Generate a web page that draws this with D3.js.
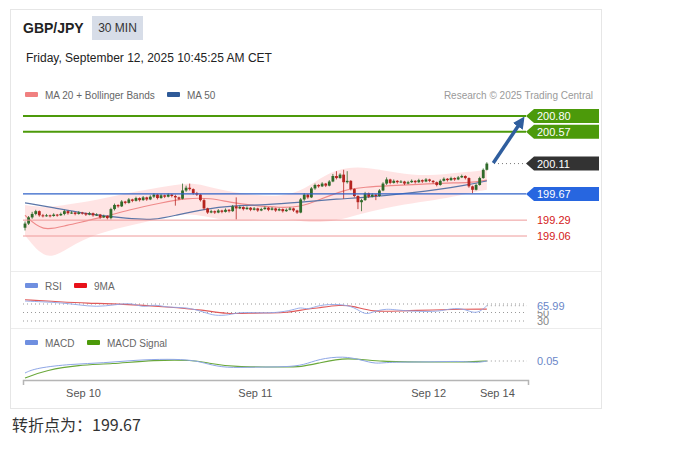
<!DOCTYPE html>
<html>
<head>
<meta charset="utf-8">
<script src="https://cdn.jsdelivr.net/npm/d3@7"></script>
<style>
  body { margin: 0; background: #fff; }
  text { font-family: "Liberation Sans", Arial, sans-serif; }
</style>
</head>
<body>
<svg id="chart" width="673" height="453"></svg>
<script>
// candles, 30 min, index 0 .. 129
const opens = [199.18, 199.24, 199.33, 199.38, 199.42, 199.36, 199.35, 199.36, 199.35, 199.37, 199.36, 199.38, 199.42, 199.39, 199.40, 199.38, 199.40, 199.39, 199.37, 199.39, 199.36, 199.37, 199.33, 199.35, 199.32, 199.45, 199.51, 199.49, 199.56, 199.54, 199.59, 199.57, 199.61, 199.58, 199.62, 199.59, 199.63, 199.66, 199.61, 199.65, 199.63, 199.66, 199.64, 199.62, 199.60, 199.72, 199.76, 199.74, 199.68, 199.66, 199.58, 199.46, 199.40, 199.42, 199.40, 199.43, 199.41, 199.44, 199.42, 199.49, 199.46, 199.48, 199.45, 199.47, 199.44, 199.46, 199.43, 199.45, 199.47, 199.44, 199.46, 199.43, 199.45, 199.42, 199.44, 199.46, 199.43, 199.40, 199.59, 199.66, 199.62, 199.75, 199.80, 199.78, 199.82, 199.79, 199.85, 199.93, 199.90, 199.95, 199.84, 199.86, 199.74, 199.64, 199.55, 199.58, 199.68, 199.63, 199.66, 199.64, 199.72, 199.82, 199.88, 199.83, 199.86, 199.84, 199.85, 199.82, 199.84, 199.86, 199.84, 199.87, 199.85, 199.88, 199.86, 199.84, 199.80, 199.86, 199.89, 199.87, 199.90, 199.88, 199.91, 199.93, 199.90, 199.78, 199.73, 199.80, 199.90, 200.02]
const closes = [199.24, 199.33, 199.38, 199.42, 199.36, 199.35, 199.36, 199.35, 199.37, 199.36, 199.38, 199.42, 199.39, 199.40, 199.38, 199.40, 199.39, 199.37, 199.39, 199.36, 199.37, 199.33, 199.35, 199.32, 199.45, 199.51, 199.49, 199.56, 199.54, 199.59, 199.57, 199.61, 199.58, 199.62, 199.59, 199.63, 199.66, 199.61, 199.65, 199.63, 199.66, 199.64, 199.62, 199.60, 199.72, 199.76, 199.74, 199.68, 199.66, 199.58, 199.46, 199.40, 199.42, 199.40, 199.43, 199.41, 199.44, 199.42, 199.49, 199.46, 199.48, 199.45, 199.47, 199.44, 199.46, 199.43, 199.45, 199.47, 199.44, 199.46, 199.43, 199.45, 199.42, 199.44, 199.46, 199.43, 199.40, 199.59, 199.66, 199.62, 199.75, 199.80, 199.78, 199.82, 199.79, 199.85, 199.93, 199.90, 199.95, 199.84, 199.86, 199.74, 199.64, 199.55, 199.58, 199.68, 199.63, 199.66, 199.64, 199.72, 199.82, 199.88, 199.83, 199.86, 199.84, 199.85, 199.82, 199.84, 199.86, 199.84, 199.87, 199.85, 199.88, 199.86, 199.84, 199.80, 199.86, 199.89, 199.87, 199.90, 199.88, 199.91, 199.93, 199.90, 199.78, 199.73, 199.80, 199.90, 200.02, 200.11]
const highs = [199.27, 199.35, 199.41, 199.44, 199.43, 199.38, 199.38, 199.37, 199.39, 199.38, 199.40, 199.44, 199.43, 199.42, 199.41, 199.42, 199.41, 199.40, 199.41, 199.40, 199.39, 199.38, 199.37, 199.36, 199.47, 199.53, 199.52, 199.58, 199.57, 199.61, 199.60, 199.63, 199.62, 199.64, 199.63, 199.65, 199.68, 199.67, 199.67, 199.66, 199.68, 199.67, 199.66, 199.63, 199.82, 199.79, 199.82, 199.75, 199.70, 199.67, 199.60, 199.47, 199.44, 199.43, 199.45, 199.44, 199.46, 199.45, 199.51, 199.62, 199.50, 199.49, 199.49, 199.48, 199.48, 199.47, 199.47, 199.49, 199.48, 199.48, 199.47, 199.47, 199.46, 199.46, 199.48, 199.47, 199.44, 199.61, 199.68, 199.67, 199.77, 199.82, 199.81, 199.84, 199.83, 199.87, 199.96, 200.00, 199.97, 200.02, 200.00, 199.87, 199.75, 199.65, 199.60, 199.70, 199.69, 199.68, 199.67, 199.74, 199.84, 199.91, 199.89, 199.88, 199.87, 199.87, 199.86, 199.86, 199.88, 199.87, 199.89, 199.88, 199.90, 199.89, 199.87, 199.85, 199.88, 199.91, 199.90, 199.92, 199.91, 199.93, 199.95, 199.94, 199.91, 199.79, 199.82, 199.92, 200.04, 200.13]
const lows = [199.14, 199.22, 199.31, 199.36, 199.34, 199.33, 199.34, 199.33, 199.34, 199.34, 199.35, 199.36, 199.37, 199.38, 199.36, 199.37, 199.37, 199.35, 199.36, 199.34, 199.35, 199.31, 199.32, 199.30, 199.30, 199.43, 199.47, 199.48, 199.52, 199.53, 199.55, 199.56, 199.56, 199.57, 199.57, 199.58, 199.61, 199.59, 199.60, 199.61, 199.62, 199.62, 199.50, 199.58, 199.59, 199.70, 199.72, 199.66, 199.64, 199.56, 199.44, 199.38, 199.39, 199.38, 199.39, 199.39, 199.40, 199.40, 199.41, 199.30, 199.45, 199.43, 199.44, 199.42, 199.43, 199.41, 199.42, 199.44, 199.42, 199.43, 199.41, 199.42, 199.40, 199.41, 199.43, 199.41, 199.38, 199.39, 199.57, 199.60, 199.61, 199.73, 199.76, 199.77, 199.77, 199.78, 199.84, 199.88, 199.89, 199.60, 199.82, 199.72, 199.62, 199.45, 199.42, 199.57, 199.61, 199.62, 199.58, 199.63, 199.71, 199.80, 199.81, 199.82, 199.82, 199.83, 199.80, 199.81, 199.83, 199.82, 199.83, 199.83, 199.84, 199.84, 199.82, 199.78, 199.79, 199.85, 199.85, 199.86, 199.86, 199.87, 199.90, 199.88, 199.76, 199.68, 199.72, 199.79, 199.89, 200.01]

// MA 20 + Bollinger bands, MA 50 (read at sparse candle indices)
const bandIdx = [0, 6, 12, 20, 30, 38, 45, 50, 56, 64, 72, 78, 84, 90, 96, 102, 110, 118, 124, 129]
const bandUpper = [199.51, 199.47, 199.52, 199.58, 199.70, 199.77, 199.83, 199.80, 199.71, 199.65, 199.63, 199.73, 199.96, 200.06, 200.05, 199.99, 199.93, 199.96, 199.99, 200.02]
const bandLower = [199.07, 198.68, 198.89, 199.10, 199.22, 199.32, 199.39, 199.35, 199.28, 199.29, 199.32, 199.26, 199.26, 199.32, 199.41, 199.48, 199.55, 199.61, 199.68, 199.73]
const ma20Idx = [0, 5, 11, 21, 29, 38, 45, 52, 57, 64, 71, 77, 82, 89, 95, 102, 110, 118, 124, 129]
const ma20 = [199.36, 199.12, 199.21, 199.32, 199.44, 199.54, 199.61, 199.61, 199.55, 199.50, 199.47, 199.48, 199.58, 199.73, 199.77, 199.79, 199.81, 199.83, 199.83, 199.87]
const ma50Idx = [0, 8, 17, 29, 36, 42, 50, 58, 67, 77, 88, 93, 108, 124, 129]
const ma50 = [199.54, 199.47, 199.38, 199.31, 199.29, 199.36, 199.45, 199.50, 199.51, 199.55, 199.60, 199.61, 199.68, 199.80, 199.86]

// levels
const resistances = [200.80, 200.57]
const lastPrice = 200.11
const pivot = 199.67
const supports = [199.29, 199.06]

// RSI
const rsiIdx = [0, 5, 10, 15, 20, 25, 30, 33, 36, 40, 45, 50, 53, 57, 60, 65, 70, 75, 77, 79, 82, 88, 92, 95, 97, 101, 105, 115, 118, 122, 125, 127, 129]
const rsi = [77, 75, 73, 68, 63, 68, 73, 61, 70, 61, 63, 51, 42, 44, 51, 49, 49, 56, 63, 56, 68, 70, 63, 44, 51, 60, 54, 51, 58, 61, 49, 51, 65.99]
const rsiMaIdx = [0, 10, 17, 27, 40, 50, 56, 64, 73, 77, 82, 88, 92, 97, 105, 114, 122, 129]
const rsiMa = [80, 75, 72, 70, 63, 56, 46, 49, 49, 56, 61, 68, 65, 51, 54, 56, 58, 58]

// MACD
const macdIdx = [0, 3, 13, 22, 31, 40, 47, 51, 56, 64, 73, 78, 82, 89, 94, 98, 101, 114, 122, 126, 129]
const macd = [-0.07, -0.02, 0.02, 0.03, 0.06, 0.07, 0.06, 0.02, -0.02, -0.01, -0.01, 0.01, 0.07, 0.10, 0.06, 0.02, 0.04, 0.04, 0.05, 0.03, 0.05]
const signalIdx = [0, 6, 15, 24, 36, 47, 51, 58, 73, 77, 82, 90, 99, 114, 123, 129]
const signal = [-0.12, -0.04, 0.01, 0.02, 0.06, 0.06, 0.03, -0.01, -0.01, -0.01, 0.03, 0.09, 0.04, 0.04, 0.04, 0.05]

const tickIdx = [16.2, 64.2, 112.6, 131.8]
const tickLabels = ['Sep 10', 'Sep 11', 'Sep 12', 'Sep 14']

const svg = d3.select('#chart')
const x = d3.scaleLinear().domain([-0.56, 140.5]).range([23, 528])
const y = d3.scaleLinear().domain([200.80, 199.06]).range([116, 236])
const yr = d3.scaleLinear().domain([30, 70]).range([321, 304])
const ym = d3.scaleLinear().domain([0, 0.05]).range([366, 361])

const green = '#4c9a0a'
const upCol = '#2f6a2a'
const downCol = '#b5231f'

// card
svg.append('rect').attr('x', 10.5).attr('y', 9.5).attr('width', 591).attr('height', 399)
  .attr('fill', '#fff').attr('stroke', '#e6e6e6')
svg.append('text').attr('x', 23).attr('y', 33).attr('font-size', 14).attr('font-weight', 'bold')
  .attr('fill', '#222').text('GBP/JPY')
svg.append('rect').attr('x', 92).attr('y', 16).attr('width', 51).attr('height', 24)
  .attr('fill', '#d7dde8')
svg.append('text').attr('x', 117.5).attr('y', 32).attr('text-anchor', 'middle')
  .attr('font-size', 12).attr('fill', '#333').text('30 MIN')
svg.append('text').attr('x', 26).attr('y', 62).attr('font-size', 12).attr('fill', '#222')
  .text('Friday, September 12, 2025 10:45:25 AM CET')

// panel separators
;[271.5, 328.5].forEach(v => {
  svg.append('line').attr('x1', 11).attr('x2', 601).attr('y1', v).attr('y2', v)
    .attr('stroke', '#ececec')
})

function legend(items, yy) {
  items.forEach(d => {
    svg.append('rect').attr('x', d.x).attr('y', yy - 3).attr('width', 13).attr('height', 5)
      .attr('rx', 1).attr('fill', d.c)
    svg.append('text').attr('x', d.x + 20).attr('y', yy + 3.5).attr('font-size', 10)
      .attr('fill', '#666').text(d.t)
  })
}
legend([{ x: 25, c: '#f08080', t: 'MA 20 + Bollinger Bands' }, { x: 167, c: '#2e5a98', t: 'MA 50' }], 95)
legend([{ x: 25, c: '#6f8fe0', t: 'RSI' }, { x: 74, c: '#e8121a', t: '9MA' }], 286)
legend([{ x: 25, c: '#6f8fe0', t: 'MACD' }, { x: 87, c: '#4c9a0a', t: 'MACD Signal' }], 343)
svg.append('text').attr('x', 593).attr('y', 98.5).attr('text-anchor', 'end')
  .attr('font-size', 10).attr('fill', '#9a9a9a').text('Research © 2025 Trading Central')

// main plot
svg.append('clipPath').attr('id', 'clip-main').append('rect')
  .attr('x', 23).attr('y', 104).attr('width', 505).attr('height', 166)
const main = svg.append('g').attr('clip-path', 'url(#clip-main)')

const band = bandIdx.map((d, i) => ({ i: d, hi: bandUpper[i], lo: bandLower[i] }))
main.append('path').datum(band)
  .attr('d', d3.area().curve(d3.curveBasis).x(d => x(d.i)).y0(d => y(d.lo)).y1(d => y(d.hi)))
  .attr('fill', 'rgba(255,120,120,0.2)')

function seriesLine(g, idx, vals, ys, col, w) {
  g.append('path').datum(idx.map((d, i) => [d, vals[i]]))
    .attr('d', d3.line().curve(d3.curveBasis).x(d => x(d[0])).y(d => ys(d[1])))
    .attr('fill', 'none').attr('stroke', col).attr('stroke-width', w)
}
seriesLine(main, ma20Idx, ma20, y, '#ef8a8a', 1.2)
seriesLine(main, ma50Idx, ma50, y, '#5b76a8', 1.2)

// horizontal levels
resistances.forEach(v => {
  svg.append('line').attr('x1', 23).attr('x2', 526).attr('y1', y(v)).attr('y2', y(v))
    .attr('stroke', green).attr('stroke-width', 2)
})
svg.append('line').attr('x1', 23).attr('x2', 526).attr('y1', y(pivot)).attr('y2', y(pivot))
  .attr('stroke', '#2f62c8').attr('stroke-width', 1.3)
supports.forEach(v => {
  svg.append('line').attr('x1', 23).attr('x2', 527).attr('y1', y(v)).attr('y2', y(v))
    .attr('stroke', '#ee9a9a').attr('stroke-width', 1)
})
svg.append('line').attr('x1', x(131)).attr('x2', 526).attr('y1', y(lastPrice)).attr('y2', y(lastPrice))
  .attr('stroke', '#777').attr('stroke-dasharray', '1,3')

// candles
const candles = main.append('g')
closes.forEach((c, i) => {
  const o = opens[i]
  const col = c >= o ? upCol : downCol
  const cx = x(i)
  candles.append('line').attr('x1', cx).attr('x2', cx).attr('y1', y(highs[i])).attr('y2', y(lows[i]))
    .attr('stroke', col).attr('stroke-width', 0.8)
  const top = y(Math.max(o, c))
  const h = Math.max(1, Math.abs(y(o) - y(c)))
  candles.append('rect').attr('x', cx - 1.4).attr('y', top).attr('width', 2.8).attr('height', h)
    .attr('fill', col)
})

// arrow
svg.append('defs').append('marker').attr('id', 'head').attr('viewBox', '0 0 10 10')
  .attr('refX', 5).attr('refY', 5).attr('markerWidth', 3.4).attr('markerHeight', 3.4)
  .attr('orient', 'auto').append('path').attr('d', 'M0,0L10,5L0,10Z').attr('fill', '#2f5e9e')
svg.append('line').attr('x1', x(130.8)).attr('y1', y(200.12)).attr('x2', x(138.6)).attr('y2', y(200.72))
  .attr('stroke', '#2f5e9e').attr('stroke-width', 3.5).attr('marker-end', 'url(#head)')

// price tags
function tag(v, col, txtCol) {
  const yy = y(v)
  svg.append('path').attr('d', `M526,${yy}L534,${yy - 7}H599V${yy + 7}H534Z`).attr('fill', col)
  svg.append('text').attr('x', 537).attr('y', yy + 4).attr('font-size', 11).attr('fill', txtCol)
    .text(v.toFixed(2))
}
resistances.forEach(v => tag(v, green, '#fff'))
tag(lastPrice, '#333', '#fff')
tag(pivot, '#2766e0', '#fff')
supports.forEach(v => {
  svg.append('text').attr('x', 537).attr('y', y(v) + 4).attr('font-size', 11).attr('fill', '#d42020')
    .text(v.toFixed(2))
})

// RSI panel
;[70, 50, 30].forEach(v => {
  svg.append('line').attr('x1', 23).attr('x2', 527).attr('y1', yr(v)).attr('y2', yr(v))
    .attr('stroke', '#999').attr('stroke-dasharray', '1,3')
})
svg.append('text').attr('x', 537).attr('y', yr(50) + 4).attr('font-size', 11).attr('fill', '#888').text('50')
svg.append('text').attr('x', 537).attr('y', yr(30) + 4).attr('font-size', 11).attr('fill', '#888').text('30')
seriesLine(svg, rsiMaIdx, rsiMa, yr, '#e05a5a', 1.1)
seriesLine(svg, rsiIdx, rsi, yr, '#8ea6e6', 0.9)
const rsiLast = rsi[rsi.length - 1]
svg.append('line').attr('x1', x(129)).attr('x2', 527).attr('y1', yr(rsiLast)).attr('y2', yr(rsiLast))
  .attr('stroke', '#999').attr('stroke-dasharray', '1,3')
svg.append('rect').attr('x', 535).attr('y', yr(rsiLast) - 6).attr('width', 32).attr('height', 11).attr('fill', '#fff')
svg.append('text').attr('x', 537).attr('y', yr(rsiLast) + 4).attr('font-size', 11).attr('fill', '#6a86c8')
  .text(rsiLast.toFixed(2))

// MACD panel
seriesLine(svg, signalIdx, signal, ym, '#6aa83a', 1.1)
seriesLine(svg, macdIdx, macd, ym, '#8ea6e6', 1)
const macdLast = macd[macd.length - 1]
svg.append('line').attr('x1', x(129)).attr('x2', 527).attr('y1', ym(macdLast)).attr('y2', ym(macdLast))
  .attr('stroke', '#999').attr('stroke-dasharray', '1,3')
svg.append('text').attr('x', 537).attr('y', ym(macdLast) + 4).attr('font-size', 11).attr('fill', '#6a86c8')
  .text(macdLast.toFixed(2))

// time axis
const axis = svg.append('g').attr('transform', 'translate(0,380)')
  .call(d3.axisBottom(x).tickValues(tickIdx).tickFormat((d, i) => tickLabels[i])
    .tickSizeInner(0).tickSizeOuter(5).tickPadding(9))
axis.select('.domain').attr('stroke', '#b5b5b5').attr('stroke-width', 1.5)
axis.selectAll('text').attr('font-size', 11).attr('fill', '#555')
  .attr('font-family', '"Liberation Sans", Arial, sans-serif')

// pivot note
svg.append('text').attr('x', 12).attr('y', 431).attr('font-size', 16).attr('fill', '#333')
  .style('font-family', '"Noto Sans CJK SC", "Liberation Sans", sans-serif')
  .text('转折点为：' + pivot.toFixed(2))
</script>
</body>
</html>
